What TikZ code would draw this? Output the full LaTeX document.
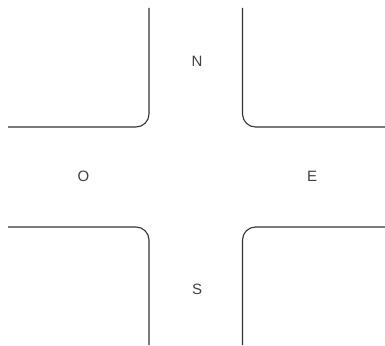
\documentclass[tikz,border=0pt]{standalone}
\usepackage{fontspec}
\setmainfont{Liberation Sans}
\begin{document}
\begin{tikzpicture}[x=1pt,y=-1pt,
  curb/.style={draw=black!80,line width=1.1pt,rounded corners=13pt},
  lbl/.style={text=black!75,font=\fontsize{15}{15}\selectfont,inner sep=0pt}]
\useasboundingbox (0,0) rectangle (385,345);
\coordinate (a1) at (149,8);  \coordinate (a2) at (149,127); \coordinate (a3) at (8,127);
\coordinate (b1) at (242.5,8); \coordinate (b2) at (242.5,127); \coordinate (b3) at (385,127);
\coordinate (c1) at (8,227); \coordinate (c2) at (149,227); \coordinate (c3) at (149,345);
\coordinate (d1) at (385,227); \coordinate (d2) at (242.5,227); \coordinate (d3) at (242.5,345);
\draw[curb] (a1) -- (a2) -- (a3);
\draw[curb] (b1) -- (b2) -- (b3);
\draw[curb] (c1) -- (c2) -- (c3);
\draw[curb] (d1) -- (d2) -- (d3);
\node[lbl] (N) at (197,61.5) {N};
\node[lbl] (O) at (83.5,176.5) {O};
\node[lbl] (E) at (312,176.5) {E};
\node[lbl] (S) at (197,289.5) {S};
\end{tikzpicture}
\end{document}
